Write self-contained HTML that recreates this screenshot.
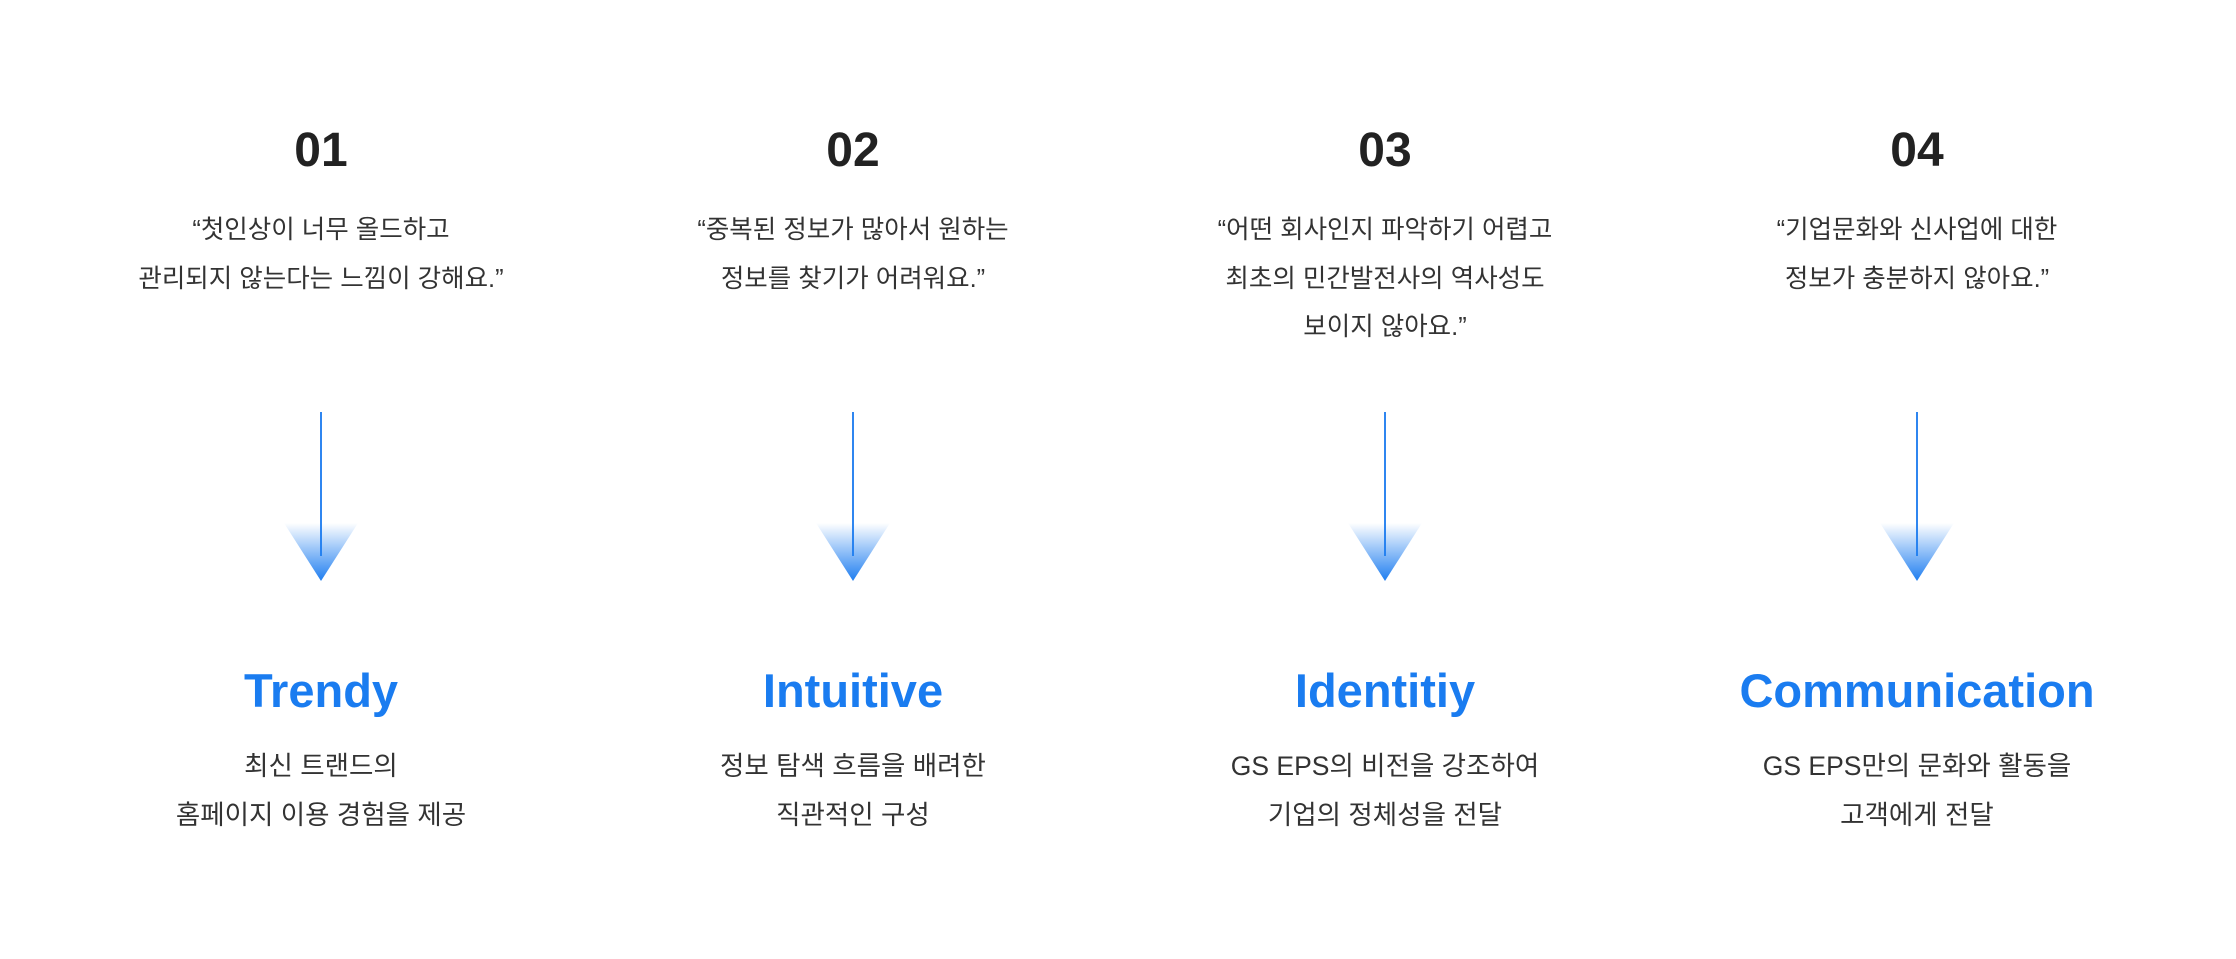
<!DOCTYPE html>
<html><head><meta charset="utf-8"><style>
body{margin:0;width:2236px;height:959px;background:#fff;position:relative;overflow:hidden;font-family:"Liberation Sans","Noto Sans CJK KR",sans-serif;}
.col{position:absolute;top:0;width:532px;text-align:center;}
.num{position:absolute;left:0;right:0;top:121px;font-size:48px;font-weight:bold;color:#222;line-height:60px;}
.q{position:absolute;left:-40px;right:-40px;top:206px;font-size:25.5px;color:#333;line-height:48.5px;}
.line{position:absolute;left:265px;top:412px;width:2px;height:144px;background:#2f86f0;}
.tri{position:absolute;left:229px;top:523px;width:74px;height:58px;background:linear-gradient(to bottom,rgba(47,134,240,0),#1f7ef0);clip-path:polygon(0 0,100% 0,50% 100%);}
.t{position:absolute;left:0;right:0;top:659px;font-size:47px;font-weight:bold;color:#1a7cf0;line-height:64px;}
.d{position:absolute;left:-40px;right:-40px;top:742px;font-size:26.5px;color:#333;line-height:48.5px;}
</style></head><body>
<div class="col" style="left:55px"><div class="num">01</div><div class="q">“첫인상이 너무 올드하고<br>관리되지 않는다는 느낌이 강해요.”</div><div class="line"></div><div class="tri"></div><div class="t">Trendy</div><div class="d">최신 트랜드의<br>홈페이지 이용 경험을 제공</div></div>
<div class="col" style="left:587px"><div class="num">02</div><div class="q">“중복된 정보가 많아서 원하는<br>정보를 찾기가 어려워요.”</div><div class="line"></div><div class="tri"></div><div class="t">Intuitive</div><div class="d">정보 탐색 흐름을 배려한<br>직관적인 구성</div></div>
<div class="col" style="left:1119px"><div class="num">03</div><div class="q">“어떤 회사인지 파악하기 어렵고<br>최초의 민간발전사의 역사성도<br>보이지 않아요.”</div><div class="line"></div><div class="tri"></div><div class="t">Identitiy</div><div class="d">GS EPS의 비전을 강조하여<br>기업의 정체성을 전달</div></div>
<div class="col" style="left:1651px"><div class="num">04</div><div class="q">“기업문화와 신사업에 대한<br>정보가 충분하지 않아요.”</div><div class="line"></div><div class="tri"></div><div class="t">Communication</div><div class="d">GS EPS만의 문화와 활동을<br>고객에게 전달</div></div>
</body></html>
